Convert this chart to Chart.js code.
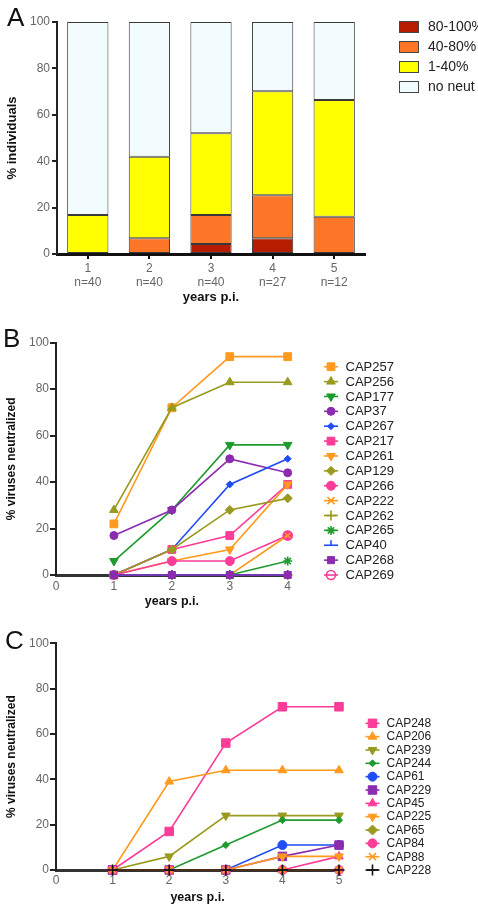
<!DOCTYPE html>
<html>
<head>
<meta charset="utf-8">
<script src="https://cdn.jsdelivr.net/npm/chart.js@4.4.0/dist/chart.umd.min.js"></script>
<style>
  body { margin: 0; background: #fff; width: 478px; height: 908px; position: relative; overflow: hidden;
         font-family: 'Liberation Sans', Arial, sans-serif; }
  canvas { position: absolute; left: 0; }
  .tag { position: absolute; font-size: 26px; line-height: 1; color: #111; z-index: 2; }
</style>
</head>
<body>
<canvas id="chartA" width="478" height="305" style="top:0"></canvas>
<canvas id="chartB" width="478" height="305" style="top:305px"></canvas>
<canvas id="chartC" width="478" height="298" style="top:610px"></canvas>
<div class="tag" style="left:7px;top:4px">A</div>
<div class="tag" style="left:3px;top:325px">B</div>
<div class="tag" style="left:5px;top:627px">C</div>
<script>
// ---- panel A: % individuals by neutralization breadth
const yearsA = ['1', '2', '3', '4', '5'];
const countsA = ['n=40', 'n=40', 'n=40', 'n=27', 'n=12'];
const breadthLabels = ['80-100%', '40-80%', '1-40%', 'no neut'];
const pct80to100 = [0, 0, 4.3, 6.8, 0];
const pct40to80 = [0, 6.8, 12.5, 18.5, 16.1];
const pct1to40 = [16.8, 35.1, 35.2, 44.8, 50.3];
const pctNoNeut = [83.2, 58.1, 48.0, 29.9, 33.6];

// ---- panel B: % viruses neutralized, years 1-4
const yearsB = [1, 2, 3, 4];
const namesB = ['CAP257', 'CAP256', 'CAP177', 'CAP37', 'CAP267', 'CAP217', 'CAP261',
                'CAP129', 'CAP266', 'CAP222', 'CAP262', 'CAP265', 'CAP40', 'CAP268', 'CAP269'];
const valuesB = [
  [22, 72, 94, 94],
  [28, 72, 83, 83],
  [6, 28, 56, 56],
  [17, 28, 50, 44],
  [0, 11, 39, 50],
  [0, 11, 17, 39],
  [0, 6, 11, 39],
  [0, 11, 28, 33],
  [0, 6, 6, 17],
  [0, 0, 0, 17],
  [0, 0, 0, 0],
  [0, 0, 0, 6],
  [0, 0, 0, 0],
  [0, 0, 0, 0],
  [null, null, null, 17]
];

// ---- panel C: % viruses neutralized, years 1-5
const yearsC = [1, 2, 3, 4, 5];
const namesC = ['CAP248', 'CAP206', 'CAP239', 'CAP244', 'CAP61', 'CAP229',
                'CAP45', 'CAP225', 'CAP65', 'CAP84', 'CAP88', 'CAP228'];
const valuesC = [
  [0, 17, 56, 72, 72],
  [0, 39, 44, 44, 44],
  [0, 6, 24, 24, 24],
  [0, 0, 11, 22, 22],
  [0, 0, 0, 11, 11],
  [0, 0, 0, 6, 11],
  [0, 0, 0, 0, 6],
  [0, 0, 0, 6, 6],
  [0, 0, 0, 0, 0],
  [0, 0, 0, 0, 0],
  [0, 0, 0, 0, 0],
  [0, 0, 0, 0, 0]
];

const FONT = "'Liberation Sans', Arial, sans-serif";
Chart.defaults.font.family = FONT;
Chart.defaults.color = '#666';

const ORANGE = '#ff9a1e', OLIVE = '#999a1e', GREEN = '#1e9a2e', PURPLE = '#8b2cb0',
      BLUE = '#1f4cf5', PINK = '#fb3c98', BLACK = '#111';

// marker look for each series (colour, shape, rotation, size)
const styleB = [
  [ORANGE, 'rect', 0, 5.5], [OLIVE, 'triangle', 0, 5], [GREEN, 'triangle', 180, 5],
  [PURPLE, 'circle', 0, 4], [BLUE, 'rectRot', 0, 3.5], [PINK, 'rect', 0, 5.5],
  [ORANGE, 'triangle', 180, 5], [OLIVE, 'rectRot', 0, 4.5], [PINK, 'circle', 0, 4.5],
  [ORANGE, 'crossRot', 0, 5], [OLIVE, 'cross', 0, 5], [GREEN, 'star', 0, 4.5],
  [BLUE, 'dash', -90, 5], [PURPLE, 'rect', 0, 5], [PINK, 'circle', 0, 4.5, true]
];
const styleC = [
  [PINK, 'rect', 0, 6], [ORANGE, 'triangle', 0, 5], [OLIVE, 'triangle', 180, 5],
  [GREEN, 'rectRot', 0, 3.5], [BLUE, 'circle', 0, 4.5], [PURPLE, 'rect', 0, 6],
  [PINK, 'triangle', 0, 5], [ORANGE, 'triangle', 180, 5], [OLIVE, 'rectRot', 0, 5],
  [PINK, 'circle', 0, 4.5], [ORANGE, 'crossRot', 0, 5], [BLACK, 'cross', 0, 5.5]
];

// legend drawn beside each plot: a line through the marker, or a filled box
const sideLegend = {
  id: 'sideLegend',
  afterDraw(chart, args, o) {
    const ctx = chart.ctx;
    ctx.save();
    ctx.textBaseline = 'middle';
    ctx.font = o.size + 'px ' + FONT;
    chart.data.datasets.forEach((ds, i) => {
      const y = o.y + i * o.step;
      if (o.boxes) {
        ctx.fillStyle = ds.backgroundColor;
        ctx.fillRect(o.x - 10, y - 6, 20, 12);
        ctx.strokeStyle = '#444';
        ctx.lineWidth = 1;
        ctx.strokeRect(o.x - 10 + 0.5, y - 6 + 0.5, 19, 11);
      } else {
        ctx.strokeStyle = ds.borderColor;
        ctx.lineWidth = 1.6;
        ctx.beginPath();
        ctx.moveTo(o.x - 7, y);
        ctx.lineTo(o.x + 7, y);
        ctx.stroke();
        ctx.fillStyle = ds.pointBackgroundColor;
        ctx.lineWidth = ds.pointBorderWidth;
        Chart.helpers.drawPoint(ctx, {
          pointStyle: ds.pointStyle, rotation: ds.pointRotation,
          radius: ds.pointRadius, borderWidth: ds.pointBorderWidth
        }, o.x, y);
      }
      ctx.fillStyle = '#222';
      ctx.fillText(ds.label, o.textX, y + 0.5);
    });
    ctx.restore();
  }
};

function lineSets(names, values, years, styles) {
  return names.map((name, i) => {
    const [color, shape, rot, size, hollow] = styles[i];
    return {
      label: name,
      data: values[i].map((v, j) => ({ x: years[j], y: v })),
      borderColor: color,
      backgroundColor: color,
      borderWidth: 1.6,
      pointStyle: shape,
      pointRotation: rot,
      pointRadius: size,
      pointBackgroundColor: hollow ? 'rgba(255,255,255,0)' : color,
      pointBorderColor: color,
      pointBorderWidth: (shape === 'cross' || shape === 'crossRot' || shape === 'star' || shape === 'dash' || hollow) ? 1.6 : 1,
      tension: 0,
      clip: false,
      order: names.length - 1 - i
    };
  });
}

function yAxis(title, width, tl, titleSize) {
  return {
    min: 0, max: 100,
    ticks: { stepSize: 20, color: '#666', padding: 1, font: { size: 12 } },
    grid: { drawOnChartArea: false, tickLength: tl, color: '#222', lineWidth: 2 },
    border: { color: '#222', width: 2 },
    title: { display: true, text: title, color: '#111',
             font: { size: titleSize, weight: 'bold' }, padding: { top: 4.5, bottom: 0 } },
    afterFit(s) { s.width = width; }
  };
}

function xLinear(max, height, tickPad, titlePad) {
  return {
    type: 'linear', min: 0, max: max,
    ticks: { stepSize: 1, color: '#666', padding: tickPad, font: { size: 12 } },
    grid: { drawOnChartArea: false, drawTicks: false },
    border: { color: '#333', width: 3 },
    title: { display: true, text: 'years p.i.', color: '#111',
             font: { size: 12.5, weight: 'bold' }, padding: { top: 0, bottom: titlePad } },
    afterFit(s) { s.height = height; }
  };
}

// ---- chart A
const barColors = ['#b51c00', '#fd7526', '#ffff00', '#f2fbfd'];
const barValues = [pct80to100, pct40to80, pct1to40, pctNoNeut];
new Chart(document.getElementById('chartA'), {
  type: 'bar',
  data: {
    labels: yearsA.map((y, i) => [y, countsA[i]]),
    datasets: breadthLabels.map((label, i) => ({
      label: label,
      data: barValues[i],
      backgroundColor: barColors[i],
      borderColor: '#3a3a3a',
      borderWidth: 1,
      borderSkipped: false,
      barPercentage: 0.67,
      categoryPercentage: 1
    }))
  },
  options: {
    responsive: false,
    animation: false,
    layout: { padding: { top: 22, right: 113, left: 0, bottom: 0 } },
    plugins: {
      legend: { display: false },
      tooltip: { enabled: false },
      sideLegend: { boxes: true, x: 409, y: 27, step: 20, textX: 428, size: 14 }
    },
    scales: {
      x: {
        stacked: true,
        ticks: { color: '#666', padding: 3, font: { size: 12, lineHeight: 1.17 } },
        grid: { drawOnChartArea: false, offset: false, tickLength: 5, color: '#111', lineWidth: 2 },
        border: { color: '#111', width: 3 },
        title: { display: true, text: 'years p.i.', color: '#111',
                 font: { size: 13, weight: 'bold' }, padding: { top: 0, bottom: 0 } },
        afterFit(s) { s.height = 51; }
      },
      y: Object.assign(yAxis('% individuals', 57, 5, 13), { stacked: true,
        ticks: { stepSize: 20, color: '#666', padding: 2, font: { size: 12 } } })
    }
  },
  plugins: [sideLegend]
});

// ---- chart B
new Chart(document.getElementById('chartB'), {
  type: 'line',
  data: { datasets: lineSets(namesB, valuesB, yearsB, styleB) },
  options: {
    responsive: false,
    animation: false,
    layout: { padding: { top: 37.7, right: 190.3, left: 0, bottom: 0 } },
    plugins: {
      legend: { display: false },
      tooltip: { enabled: false },
      sideLegend: { x: 331, y: 61.7, step: 14.88, textX: 345.5, size: 13 }
    },
    scales: {
      x: xLinear(4, 35, 4.5, 1),
      y: yAxis('% viruses neutralized', 56, 6, 12)
    }
  },
  plugins: [sideLegend]
});

// ---- chart C
new Chart(document.getElementById('chartC'), {
  type: 'line',
  data: { datasets: lineSets(namesC, valuesC, yearsC, styleC) },
  options: {
    responsive: false,
    animation: false,
    layout: { padding: { top: 33.3, right: 139, left: 0, bottom: 0 } },
    plugins: {
      legend: { display: false },
      tooltip: { enabled: false },
      sideLegend: { x: 372.5, y: 113.3, step: 13.34, textX: 386.5, size: 12 }
    },
    scales: {
      x: xLinear(5, 38, 3.5, 3),
      y: yAxis('% viruses neutralized', 56, 6, 12)
    }
  },
  plugins: [sideLegend]
});
</script>
</body>
</html>
